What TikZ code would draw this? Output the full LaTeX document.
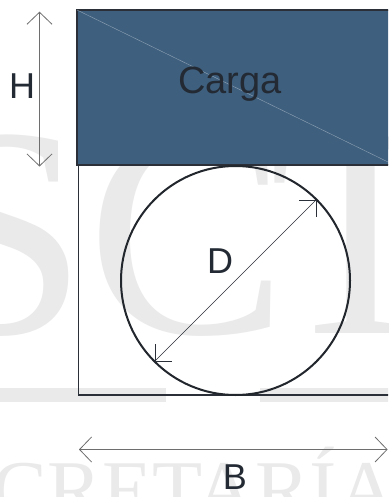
\documentclass[tikz,border=0pt]{standalone}
\usepackage{fontspec}
\setmainfont{Liberation Sans}
\newfontfamily\wmfont{Liberation Serif}
\usetikzlibrary{arrows.meta}
\definecolor{cargablue}{HTML}{3E5F7E}
\definecolor{edgedark}{HTML}{2B3038}
\definecolor{labeltext}{HTML}{232A33}
\definecolor{dimgray}{HTML}{6E6E6E}
\definecolor{wmgray}{HTML}{EAEAEA}
\definecolor{diaglight}{HTML}{8FA3B5}
\tikzset{
  dimarrow/.style={draw=dimgray, line width=0.8pt,
    {Straight Barb[length=12pt,width=25pt,line width=0.8pt]}-{Straight Barb[length=12pt,width=25pt,line width=0.8pt]}},
  diamarrow/.style={draw=edgedark, line width=0.6pt,
    {Straight Barb[length=12pt,width=24pt,line width=0.6pt]}-{Straight Barb[length=12pt,width=24pt,line width=0.6pt]}},
  lbl/.style={text=labeltext, inner sep=0pt, font=\fontsize{36}{40}\selectfont},
  cargabox/.style={fill=cargablue, draw=edgedark, line width=1.5pt, inner sep=0pt, outer sep=0pt},
  wall/.style={draw=edgedark, line width=1.5pt},
  wm/.style={text=wmgray, inner sep=0pt, anchor=base west},
}
\begin{document}
\begin{tikzpicture}[x=1pt,y=-1pt]
\useasboundingbox (0,0) rectangle (388,497);
\fill[white] (0,0) rectangle (388,497);
\clip (0,0) rectangle (388,497);
% watermark
\node[wm, font=\wmfont\fontsize{300}{300}\selectfont] (wmS) at (-80,333) {S};
\node[wm, font=\wmfont\fontsize{300}{300}\selectfont] (wmC) at (87,333) {C};
\node[wm, font=\wmfont\fontsize{300}{300}\selectfont] (wmT) at (269,333) {T};
\fill[wmgray] (0,388) rectangle (166,402);
\fill[wmgray] (260,388) rectangle (392,402);
\node[wm, font=\wmfont\fontsize{82}{82}\selectfont] (wmText) at (-103,517) {SECRETARÍA};
% lower box walls
\coordinate (wallTop) at (78.5,165);
\coordinate (wallCorner) at (78.5,395);
\coordinate (wallRight) at (392,395);
\draw[wall] (wallTop) -- (wallCorner) -- (wallRight);
% load box
\node[cargabox, anchor=north west, minimum width=316pt, minimum height=155pt] (box) at (77,10) {};
\coordinate (diagEnd) at (388,162);
\draw[draw=diaglight, line width=0.4pt] (box.north west) -- (diagEnd);
\node[lbl, font=\fontsize{38}{42}\selectfont] (carga) at (230,84) {Carga};
% circle
\node[circle, draw=edgedark!80!black, line width=2pt, minimum size=229pt, inner sep=0pt, outer sep=0pt] (circ) at (235.5,280.5) {};
\draw[diamarrow] (circ.225) -- (circ.45);
\node[lbl] (D) at (220,261) {D};
% H dimension
\coordinate (Htop) at (39.5,11.7);
\coordinate (Hbot) at (39.5,166.5);
\draw[dimarrow] (Htop) -- (Hbot);
\node[lbl] (H) at (22,86) {H};
% B dimension
\coordinate (Bleft) at (79,449.5);
\coordinate (Bright) at (387.6,449.5);
\draw[dimarrow] (Bleft) -- (Bright);
\node[lbl] (B) at (235,477) {B};
\end{tikzpicture}
\end{document}
